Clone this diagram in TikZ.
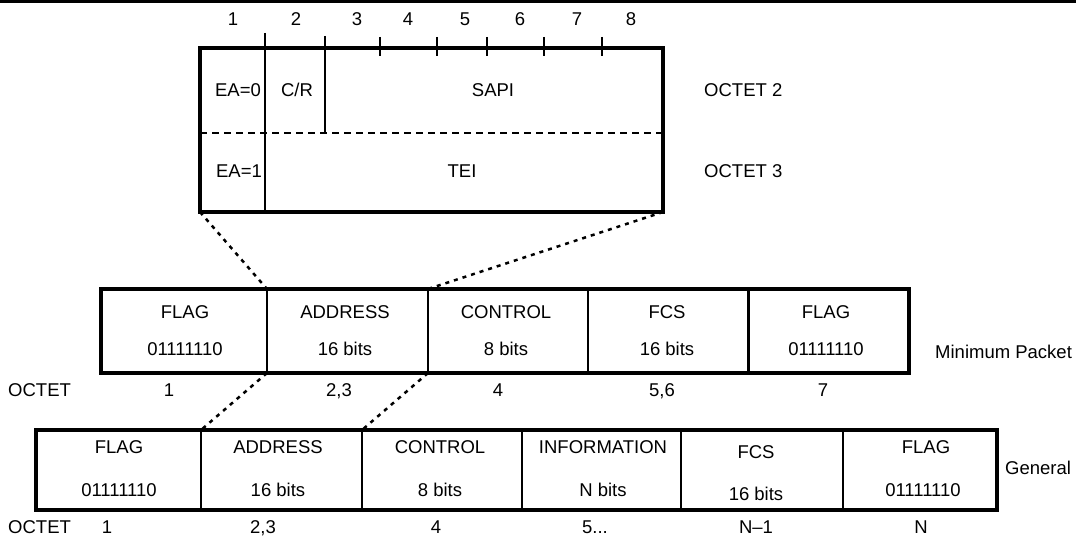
\documentclass[tikz,border=0pt]{standalone}
\usepackage{fontspec}
\setmainfont{Liberation Sans}
\begin{document}
\begin{tikzpicture}[x=1pt,y=-1pt,
  txt/.style={font=\fontsize{18.5}{21}\selectfont, inner sep=0pt, text height=13.5pt, text depth=0pt},
  cell/.style={draw, line width=2pt, inner sep=0pt, outer sep=0pt},
  frame/.style={line width=4pt},
  thinline/.style={line width=2pt},
  link/.style={line width=2.5pt, dash pattern=on 4pt off 5pt},
  sepline/.style={line width=2pt, dash pattern=on 7pt off 5pt}]
\useasboundingbox (0,0) rectangle (1076,537);
\draw[line width=3pt] (0,1.5) -- (1076,1.5);

% ---------- address field detail ----------
\node[draw, frame, inner sep=0pt, outer sep=0pt, minimum width=463pt, minimum height=164pt] (addr) at (431.5,130) {};
\draw[thinline] (265,33) -- (265,212);
\draw[thinline] (325,36) -- (325,133);
\foreach \x in {380,437,487,544,602} \draw[thinline] (\x,37) -- (\x,56);
\draw[sepline] (200,133) -- (663,133);
\foreach \x/\n in {233/1,296/2,357/3,408/4,465/5,520/6,577/7,631/8}
  \node[txt] (bit\n) at (\x,19) {\n};
\node[txt] (ea0) at (238,90) {EA=0};
\node[txt] (cr) at (297,90) {C/R};
\node[txt] (sapi) at (493,90) {SAPI};
\node[txt] (ea1) at (239,171) {EA=1};
\node[txt] (tei) at (462,171) {TEI};
\node[txt, anchor=west] (oct2) at (704,90) {OCTET 2};
\node[txt, anchor=west] (oct3) at (704,171) {OCTET 3};

% ---------- minimum packet ----------
\node[cell, minimum width=166pt, minimum height=84pt] (m1) at (184,331) {};
\node[cell, minimum width=161pt, minimum height=84pt] (m2) at (347.5,331) {};
\node[cell, minimum width=160pt, minimum height=84pt] (m3) at (508,331) {};
\node[cell, minimum width=160pt, minimum height=84pt] (m4) at (668,331) {};
\node[cell, minimum width=160pt, minimum height=84pt] (m5) at (828.5,331) {};
\draw[frame] (m1.north west) rectangle (m5.south east);
\node[txt] (mh1) at (185,312) {FLAG};
\node[txt] (mv1) at (185,349) {01111110};
\node[txt] (mh2) at (345,312) {ADDRESS};
\node[txt] (mv2) at (345,349) {16 bits};
\node[txt] (mh3) at (506,312) {CONTROL};
\node[txt] (mv3) at (506,349) {8 bits};
\node[txt] (mh4) at (667,312) {FCS};
\node[txt] (mv4) at (667,349) {16 bits};
\node[txt] (mh5) at (826,312) {FLAG};
\node[txt] (mv5) at (826,349) {01111110};
\node[txt, anchor=west] (minp) at (935,352) {Minimum Packet};
\node[txt, anchor=west] (mo0) at (8,390) {OCTET};
\node[txt] (mo1) at (169,390) {1};
\node[txt] (mo2) at (339,390) {2,3};
\node[txt] (mo3) at (498,390) {4};
\node[txt] (mo4) at (662,390) {5,6};
\node[txt] (mo5) at (823,390) {7};

% ---------- general packet ----------
\node[cell, minimum width=165pt, minimum height=80pt] (g1) at (118.5,470) {};
\node[cell, minimum width=161pt, minimum height=80pt] (g2) at (281.5,470) {};
\node[cell, minimum width=160pt, minimum height=80pt] (g3) at (442,470) {};
\node[cell, minimum width=159pt, minimum height=80pt] (g4) at (601.5,470) {};
\node[cell, minimum width=162pt, minimum height=80pt] (g5) at (762,470) {};
\node[cell, minimum width=154pt, minimum height=80pt] (g6) at (920,470) {};
\draw[frame] (g1.north west) rectangle (g6.south east);
\node[txt] (gh1) at (119,447) {FLAG};
\node[txt] (gv1) at (119,490) {01111110};
\node[txt] (gh2) at (278,447) {ADDRESS};
\node[txt] (gv2) at (278,490) {16 bits};
\node[txt] (gh3) at (440,447) {CONTROL};
\node[txt] (gv3) at (440,490) {8 bits};
\node[txt] (gh4) at (603,447) {INFORMATION};
\node[txt] (gv4) at (603,490) {N bits};
\node[txt] (gh5) at (756,452) {FCS};
\node[txt] (gv5) at (756,494) {16 bits};
\node[txt] (gh6) at (926,447) {FLAG};
\node[txt] (gv6) at (923,490) {01111110};
\node[txt, anchor=west] (gen) at (1005,468) {General};
\node[txt, anchor=west] (go0) at (8,527) {OCTET};
\node[txt] (go1) at (107,527) {1};
\node[txt] (go2) at (263,527) {2,3};
\node[txt] (go3) at (436,527) {4};
\node[txt] (go4) at (595,527) {5...};
\node[txt] (go5) at (756,527) {N–1};
\node[txt] (go6) at (921,527) {N};

% ---------- zoom connectors ----------
\draw[link] (addr.south west) -- (m1.north east);
\draw[link] (addr.south east) -- (m2.north east);
\draw[link] (m1.south east) -- (g1.north east);
\draw[link] (m2.south east) -- (g2.north east);
\end{tikzpicture}
\end{document}
